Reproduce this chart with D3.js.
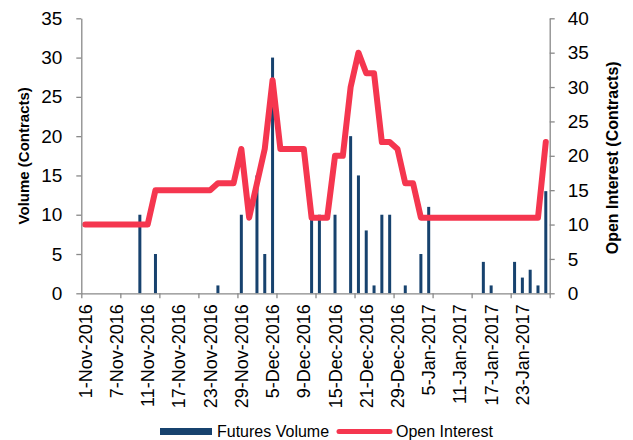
<!DOCTYPE html>
<html>
<head>
<meta charset="utf-8">
<script src="https://cdn.jsdelivr.net/npm/d3@7"></script>
<style>
  body { margin: 0; background: #fff; }
  svg { display: block; font-family: "Liberation Sans", Arial, sans-serif; }
</style>
</head>
<body>
<svg id="chart" width="633" height="440"></svg>
<script>
// ---- data ----
const categories = [
  "1-Nov-2016","2-Nov-2016","3-Nov-2016","4-Nov-2016","7-Nov-2016","8-Nov-2016","9-Nov-2016","10-Nov-2016",
  "11-Nov-2016","14-Nov-2016","15-Nov-2016","16-Nov-2016","17-Nov-2016","18-Nov-2016","21-Nov-2016","22-Nov-2016",
  "23-Nov-2016","24-Nov-2016","25-Nov-2016","28-Nov-2016","29-Nov-2016","30-Nov-2016","1-Dec-2016","2-Dec-2016",
  "5-Dec-2016","6-Dec-2016","7-Dec-2016","8-Dec-2016","9-Dec-2016","12-Dec-2016","13-Dec-2016","14-Dec-2016",
  "15-Dec-2016","16-Dec-2016","19-Dec-2016","20-Dec-2016","21-Dec-2016","22-Dec-2016","27-Dec-2016","28-Dec-2016",
  "29-Dec-2016","30-Dec-2016","3-Jan-2017","4-Jan-2017","5-Jan-2017","6-Jan-2017","9-Jan-2017","10-Jan-2017",
  "11-Jan-2017","12-Jan-2017","13-Jan-2017","16-Jan-2017","17-Jan-2017","18-Jan-2017","19-Jan-2017","20-Jan-2017",
  "23-Jan-2017","24-Jan-2017","25-Jan-2017","26-Jan-2017"
];
const futuresVolume = [
  0,0,0,0,0,0,0,10, 0,5,0,0,0,0,0,0,
  0,1,0,0,10,0,15,5, 30,0,0,0,0,10,10,0,
  10,0,20,15,8,1,10,10, 0,1,0,5,11,0,0,0,
  0,0,0,4,1,0,0,4, 2,3,1,13
];
const openInterest = [
  10,10,10,10,10,10,10,10, 10,15,15,15,15,15,15,15,
  15,16,16,16,21,11,16,21, 31,21,21,21,21,11,11,11,
  20,20,30,35,32,32,22,22, 21,16,16,11,11,11,11,11,
  11,11,11,11,11,11,11,11, 11,11,11,22
];
const volumeTicks = [0,5,10,15,20,25,30,35];
const oiTicks = [0,5,10,15,20,25,30,35,40];
const labelEvery = 4;
const tickEvery = 5;

// ---- layout ----
const svg = d3.select("#chart");
const L = 81.3, R = 549.7, T = 18.3, B = 293.3;
const axisColor = "#898989";
const barColor = "#17426e";
const lineColor = "#f5364f";

const x = d3.scaleBand().domain(categories).range([L, R]).padding(0);
const xIdx = d3.scaleLinear().domain([0, categories.length]).range([L, R]);
const yL = d3.scaleLinear().domain([0, 35]).range([B, T]);
const yR = d3.scaleLinear().domain([0, 40]).range([B, T]);

// bars
const barW = 3;
svg.append("g").selectAll("rect")
  .data(categories.map((c, i) => ({c, v: futuresVolume[i]})).filter(d => d.v > 0))
  .join("rect")
  .attr("x", d => x(d.c) + x.bandwidth() / 2 - barW / 2)
  .attr("width", barW)
  .attr("y", d => yL(d.v))
  .attr("height", d => yL(0) - yL(d.v))
  .attr("fill", barColor);

// line
const line = d3.line()
  .x((d, i) => x(categories[i]) + x.bandwidth() / 2)
  .y(d => yR(d));
svg.append("path")
  .datum(openInterest)
  .attr("d", line)
  .attr("fill", "none")
  .attr("stroke", lineColor)
  .attr("stroke-width", 6)
  .attr("stroke-linejoin", "round")
  .attr("stroke-linecap", "round");

function styleAxis(g) {
  g.selectAll(".domain").attr("stroke", axisColor).attr("stroke-width", 1.3);
  g.selectAll(".tick line").attr("stroke", axisColor).attr("stroke-width", 1.3);
  g.selectAll("text").attr("fill", "#000").style("font-family", "'Liberation Sans', Arial, sans-serif");
}

// left axis
const gL = svg.append("g").attr("transform", `translate(${L},0)`)
  .call(d3.axisLeft(yL).tickValues(volumeTicks).tickSize(5).tickSizeOuter(0).tickPadding(14));
styleAxis(gL);
gL.selectAll("text").style("font-size", "19px");

// right axis
const gR = svg.append("g").attr("transform", `translate(${R},0)`)
  .call(d3.axisRight(yR).tickValues(oiTicks).tickSize(5).tickSizeOuter(0).tickPadding(13));
styleAxis(gR);
gR.selectAll("text").style("font-size", "19px");

// bottom axis ticks (every 5 categories)
const gB = svg.append("g").attr("transform", `translate(0,${B})`)
  .call(d3.axisBottom(xIdx)
    .tickValues(d3.range(0, categories.length + 1, tickEvery))
    .tickFormat("").tickSize(5).tickSizeOuter(0));
styleAxis(gB);

// bottom labels (every 4 categories)
const gBL = svg.append("g").attr("transform", `translate(0,${B})`)
  .call(d3.axisBottom(x)
    .tickValues(categories.filter((c, i) => i % labelEvery === 0))
    .tickSize(0).tickSizeOuter(0));
gBL.select(".domain").remove();
gBL.selectAll("text")
  .attr("fill", "#000")
  .style("font-size", "18px")
  .style("font-family", "'Liberation Sans', Arial, sans-serif")
  .attr("text-anchor", "end")
  .attr("transform", "translate(0,11) rotate(-90)")
  .attr("x", 0).attr("y", 0).attr("dy", "0.36em");

// axis titles
svg.append("text")
  .attr("transform", `translate(29,${(T + B) / 2}) rotate(-90)`)
  .attr("text-anchor", "middle")
  .style("font-size", "15px").style("font-weight", "bold")
  .text("Volume (Contracts)");
svg.append("text")
  .attr("transform", `translate(618,${(T + B) / 2 + 2}) rotate(-90)`)
  .attr("text-anchor", "middle")
  .style("font-size", "16px").style("font-weight", "bold")
  .text("Open Interest (Contracts)");

// legend
const lg = svg.append("g");
lg.append("rect").attr("x", 160).attr("y", 428).attr("width", 52).attr("height", 7).attr("fill", barColor);
lg.append("text").attr("x", 217).attr("y", 437).style("font-size", "16px").text("Futures Volume");
lg.append("line").attr("x1", 339).attr("x2", 390).attr("y1", 431.5).attr("y2", 431.5)
  .attr("stroke", lineColor).attr("stroke-width", 5).attr("stroke-linecap", "round");
lg.append("text").attr("x", 396).attr("y", 437).style("font-size", "16px").text("Open Interest");
</script>
</body>
</html>
